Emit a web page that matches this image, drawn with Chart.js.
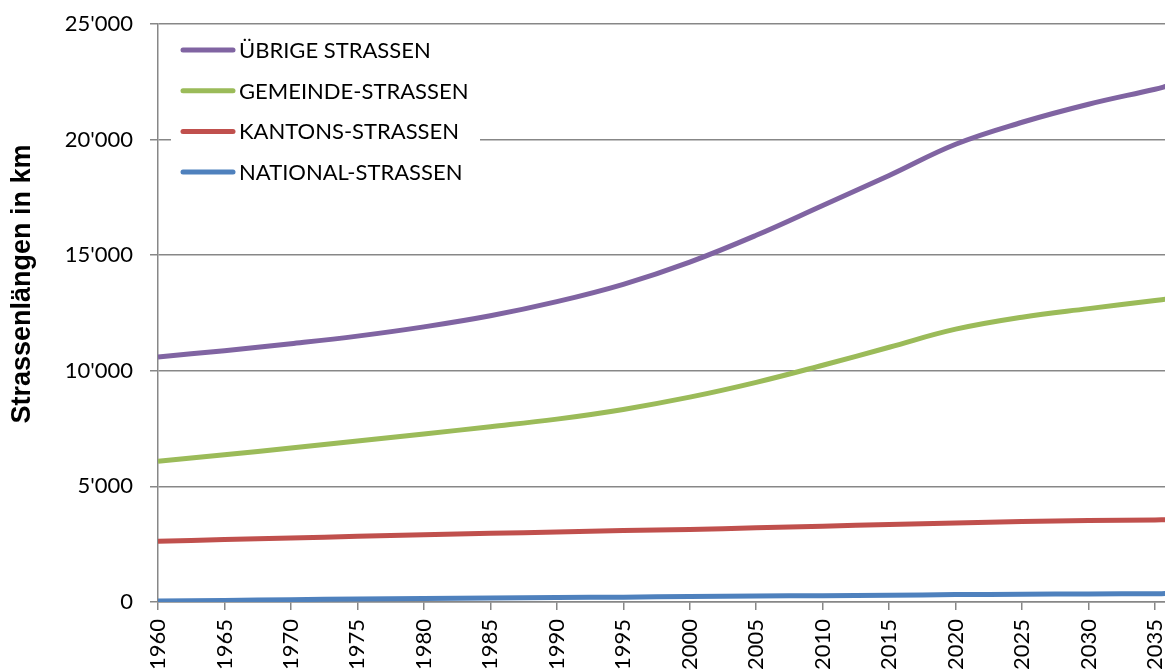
<!DOCTYPE html>
<html>
<head>
<meta charset="utf-8">
<script src="https://cdn.jsdelivr.net/npm/chart.js@4.4.0/dist/chart.umd.min.js"></script>
<style>
  html, body { margin: 0; padding: 0; background: #fff; }
</style>
</head>
<body>
<canvas id="roadChart" width="1165" height="672"></canvas>
<script>
const years = [1960, 1965, 1970, 1975, 1980, 1985, 1990, 1995, 2000, 2005, 2010, 2015, 2020, 2025, 2030, 2035, 2036];
const uebrige = [10600, 10870, 11170, 11500, 11900, 12380, 12990, 13740, 14700, 15860, 17150, 18450, 19800, 20750, 21530, 22180, 22330];
const gemeinde = [6090, 6370, 6660, 6960, 7270, 7580, 7910, 8330, 8860, 9500, 10240, 11020, 11800, 12320, 12690, 13040, 13110];
const kantons = [2630, 2700, 2770, 2840, 2910, 2970, 3030, 3090, 3140, 3210, 3280, 3350, 3420, 3480, 3520, 3550, 3560];
const national = [40, 70, 100, 130, 155, 175, 195, 210, 235, 255, 275, 295, 320, 335, 350, 360, 365];
const seriesNames = ['ÜBRIGE STRASSEN', 'GEMEINDE-STRASSEN', 'KANTONS-STRASSEN', 'NATIONAL-STRASSEN'];
const yTicks = [0, 5000, 10000, 15000, 20000, 25000];

const gridGrey = '#878787';
Chart.defaults.font.family = 'Lato';
Chart.defaults.color = '#000';

function fmt(v) {
  return String(v).replace(/\B(?=(\d{3})+(?!\d))/g, "'");
}

// legend on a white box inside the plot + rotated axis title
const legendBox = {
  id: 'legendBox',
  afterDatasetsDraw(chart) {
    const ctx = chart.ctx;
    ctx.save();
    ctx.fillStyle = '#fff';
    ctx.fillRect(171, 30, 309, 162);
    ctx.font = '22px Lato';
    ctx.textBaseline = 'middle';
    chart.data.datasets.forEach((ds, i) => {
      const y = 50 + i * 40.7;
      ctx.strokeStyle = ds.borderColor;
      ctx.lineWidth = 5;
      ctx.lineCap = 'round';
      ctx.beginPath();
      ctx.moveTo(183, y);
      ctx.lineTo(233, y);
      ctx.stroke();
      ctx.fillStyle = '#000';
      ctx.fillText(ds.label, 239, y + 1);
    });
    ctx.translate(23, 284);
    ctx.rotate(-Math.PI / 2);
    ctx.font = 'bold 27px "Liberation Sans"';
    ctx.textAlign = 'center';
    ctx.fillText('Strassenlängen in km', 0, 0);
    ctx.restore();
  }
};

const ctx = document.getElementById('roadChart').getContext('2d');

new Chart(ctx, {
  type: 'line',
  data: {
    labels: years,
    datasets: [
      { label: seriesNames[0], data: uebrige, borderColor: '#8064A2' },
      { label: seriesNames[1], data: gemeinde, borderColor: '#9BBB59' },
      { label: seriesNames[2], data: kantons, borderColor: '#C0504D' },
      { label: seriesNames[3], data: national, borderColor: '#4F81BD' }
    ]
  },
  options: {
    responsive: false,
    animation: false,
    layout: { padding: { top: 24, right: 0, bottom: 0, left: 0 } },
    elements: {
      line: { borderWidth: 5, tension: 0.4, fill: false },
      point: { radius: 0, hoverRadius: 0 }
    },
    plugins: {
      legend: { display: false },
      tooltip: { enabled: false }
    },
    scales: {
      x: {
        type: 'linear',
        min: 1960,
        max: 2035.75,
        grid: { drawOnChartArea: false, drawTicks: true, tickLength: 8, color: gridGrey, lineWidth: 1.5 },
        border: { color: gridGrey, width: 1.5 },
        ticks: {
          stepSize: 5,
          includeBounds: false,
          autoSkip: false,
          minRotation: 90,
          maxRotation: 90,
          padding: 9,
          font: { size: 22 },
          callback: v => String(v)
        },
        afterFit(scale) {
          scale.height = 70;
          scale.paddingLeft = 0;
          scale.paddingRight = 0;
        }
      },
      y: {
        min: 0,
        max: 25000,
        grid: { color: gridGrey, lineWidth: 1.5, tickLength: 8 },
        border: { color: gridGrey, width: 1.5 },
        afterBuildTicks(scale) {
          scale.ticks = yTicks.map(v => ({ value: v }));
        },
        ticks: {
          padding: 17,
          font: { size: 22 },
          callback: v => fmt(v)
        },
        afterFit(scale) {
          scale.width = 158;
          scale.paddingTop = 0;
          scale.paddingBottom = 0;
        }
      }
    }
  },
  plugins: [legendBox]
});
</script>
</body>
</html>
